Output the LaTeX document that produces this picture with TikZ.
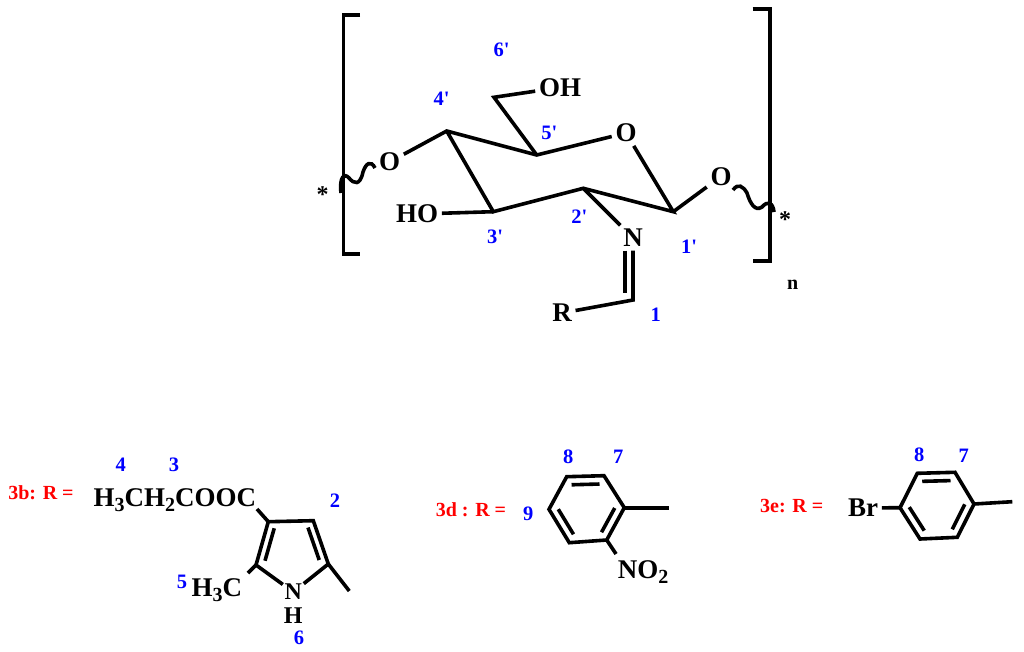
\documentclass[tikz,border=0pt]{standalone}
\usepackage{fontspec}
\setmainfont{Liberation Serif}
\usetikzlibrary{calc}
\newcommand{\innerbond}[3]{\draw ($(#1)!.25!(#3)$) -- ($(#2)!.25!(#3)$);}
\newcommand{\pr}{\textquotesingle}
\newcommand{\subd}[1]{\raisebox{-5pt}{\fontsize{20}{20}\selectfont #1}}
\tikzset{
    atom/.style={font=\bfseries\fontsize{27}{27}\selectfont, inner sep=2pt},
    smallatom/.style={font=\bfseries\fontsize{24}{24}\selectfont, inner sep=0pt},
    locant/.style={font=\bfseries\fontsize{20.5}{20.5}\selectfont, text=blue, inner sep=0pt},
    rlabel/.style={font=\bfseries\fontsize{20}{20}\selectfont, text=red, inner sep=0pt},
    bond/.style={line width=3.6pt},
}
\begin{document}
\begin{tikzpicture}[x=1pt,y=-1pt,bond]
    \useasboundingbox (0,0) rectangle (1024,652);

    % glucosamine unit
    \coordinate (c1) at (673.3,211.7);
    \coordinate (c2) at (583.3,188.3);
    \coordinate (c3) at (493.3,211.7);
    \coordinate (c4) at (446.7,131);
    \coordinate (c5) at (536.7,155);
    \coordinate (c6) at (494,97.3);
    \coordinate (ch) at (633,300);
    \node[atom] (oring) at (626,133) {O};
    \node[atom] (oh6) at (560,87.5) {OH};
    \node[atom] (oleft) at (389.5,162) {O};
    \node[atom] (oright) at (721,176.5) {O};
    \node[atom] (ho3) at (417,214) {HO};
    \node[atom] (nim) at (633,238) {N};
    \node[atom] (rgrp) at (562,313) {R};

    \draw (oleft) -- (c4) -- (c5) -- (oring) -- (c1) -- (c2) -- (c3) -- (c4);
    \draw (c5) -- (c6) -- (oh6);
    \draw (ho3) -- (c3);
    \draw (c1) -- (oright);
    \draw (c2) -- (nim);
    \draw (nim) -- (ch) -- (rgrp);
    \draw ([xshift=-8pt]nim.south) -- ([shift={(-8pt,7pt)}]ch);

    % brackets and wavy ends
    \coordinate (wstl) at (375,168);
    \coordinate (wavl) at (341,193);
    \coordinate (wstr) at (733,190);
    \coordinate (wavr) at (774,212);
    \draw (360,15) -- (343.3,15) -- (343.3,254) -- (360,254);
    \draw (752.7,9.3) -- (770,9.3) -- (770,260.7) -- (752.7,260.7);
    \draw (wstl) .. controls (371,160) and (366,163) .. (363,172) .. controls (360,186) and (354,184) .. (349,178) .. controls (345,173) and (339,176) .. (wavl);
    \draw (wstr) .. controls (738,183) and (743,186) .. (747,193) .. controls (750,203) and (755,212) .. (762,207) .. controls (768,200) and (773,203) .. (wavr);

    \node[font=\bfseries\fontsize{24}{24}\selectfont, inner sep=0pt] (stl) at (322.7,195) {*};
    \node[font=\bfseries\fontsize{24}{24}\selectfont, inner sep=0pt] (str) at (785,219.5) {*};
    \node[font=\bfseries\fontsize{20}{20}\selectfont, inner sep=0pt] (nsub) at (792.7,285) {n};

    \node[locant] at (501.7,50) {6\pr};
    \node[locant] at (441.7,98.5) {4\pr};
    \node[locant] at (549.3,133) {5\pr};
    \node[locant] at (579.3,217) {2\pr};
    \node[locant] at (495,237) {3\pr};
    \node[locant] at (689,246.5) {1\pr};
    \node[locant] at (655.7,314.5) {1};

    % 3b
    \node[rlabel] at (41,492.7) {3b: R =};
    \node[locant] at (120.7,465) {4};
    \node[locant] at (174,465) {3};
    \node[locant] at (335,501) {2};
    \node[locant] at (182,582) {5};
    \node[locant] at (299,638) {6};
    \coordinate (pa) at (268.3,521.7);
    \coordinate (pb) at (313.3,520.7);
    \coordinate (pc) at (328.3,564);
    \coordinate (pd) at (256,565);
    \coordinate (pm) at (349.3,591);
    \coordinate (pe) at (257,509);
    \coordinate (pf) at (248,573);
    \coordinate (pcen) at (292,548);
    \node[atom, anchor=base east] (ester) at (260,506.7) {H\subd{3}CH\subd{2}COOC};
    \node[atom, anchor=base east] (meth) at (246,596.7) {H\subd{3}C};
    \node[smallatom] (nh) at (293.3,592) {N};
    \node[smallatom] (hn) at (293.3,616) {H};
    \draw (pe) -- (pa) -- (pb) -- (pc) -- (nh) -- (pd) -- (pa);
    \draw (pc) -- (pm);
    \draw (pd) -- (pf);
    \innerbond{pa}{pd}{pcen}
    \innerbond{pb}{pc}{pcen}

    % 3d
    \node[rlabel] at (471,510) {3d : R =};
    \node[locant] at (568.3,457) {8};
    \node[locant] at (618.3,457) {7};
    \node[locant] at (528.3,514) {9};
    \coordinate (da) at (566.7,476.7);
    \coordinate (db) at (604,475.7);
    \coordinate (dc) at (624.3,507.7);
    \coordinate (dd) at (606.7,540);
    \coordinate (de) at (569.3,542.7);
    \coordinate (df) at (549,509.3);
    \coordinate (dm) at (669,507.7);
    \coordinate (dn) at (616,554);
    \coordinate (dcen) at (586,509);
    \node[atom, anchor=base west] (nit) at (614,578) {NO\subd{2}};
    \draw (da) -- (db) -- (dc) -- (dd) -- (de) -- (df) -- cycle;
    \draw (dc) -- (dm);
    \draw (dd) -- (dn);
    \innerbond{da}{db}{dcen}
    \innerbond{dc}{dd}{dcen}
    \innerbond{de}{df}{dcen}

    % 3e
    \node[rlabel] at (791.7,506) {3e: R =};
    \node[locant] at (919.3,455) {8};
    \node[locant] at (963.7,456) {7};
    \coordinate (ea) at (917.3,473.3);
    \coordinate (eb) at (955,472.3);
    \coordinate (ec) at (974,504);
    \coordinate (ed) at (957.3,537.3);
    \coordinate (ee) at (920,539);
    \coordinate (ef) at (900,507.7);
    \coordinate (em) at (1012.3,501.7);
    \coordinate (ecen) at (937,505.5);
    \node[atom] (brm) at (863,508) {Br};
    \draw (ea) -- (eb) -- (ec) -- (ed) -- (ee) -- (ef) -- cycle;
    \draw (ec) -- (em);
    \draw (brm) -- (ef);
    \innerbond{ea}{eb}{ecen}
    \innerbond{ec}{ed}{ecen}
    \innerbond{ee}{ef}{ecen}
\end{tikzpicture}
\end{document}
